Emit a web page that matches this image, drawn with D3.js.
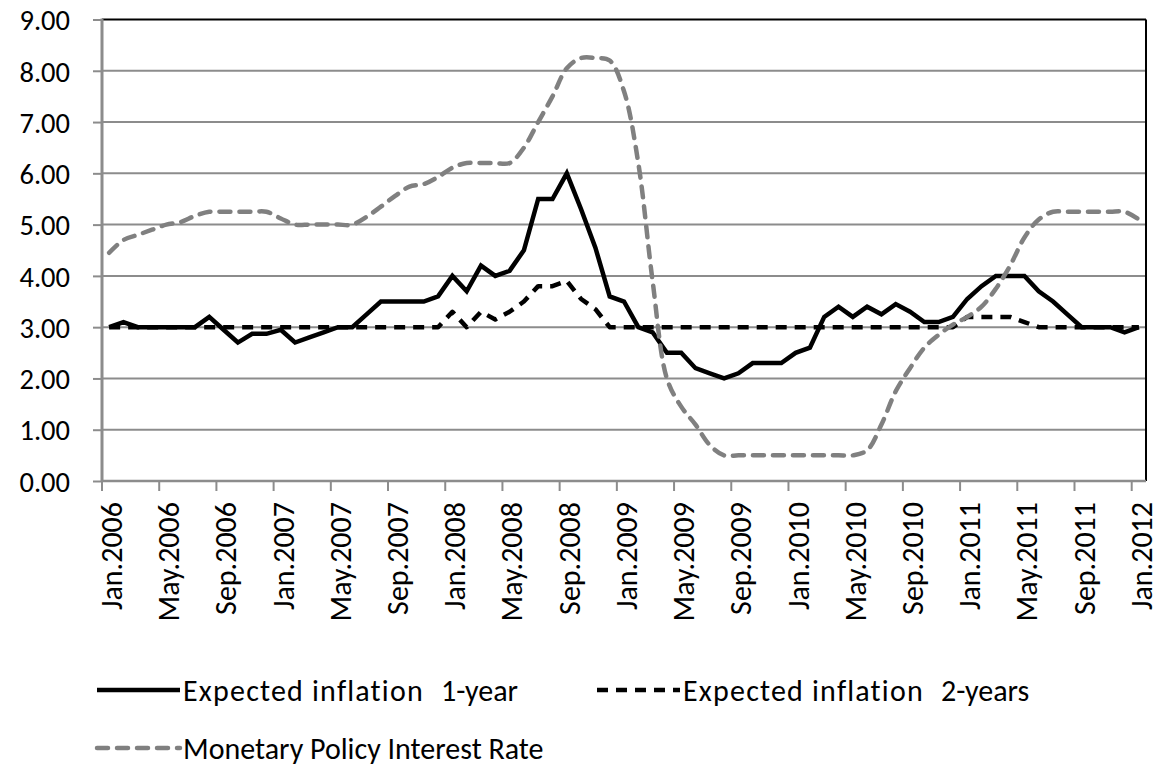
<!DOCTYPE html>
<html>
<head>
<meta charset="utf-8">
<script src="https://cdn.jsdelivr.net/npm/d3@7"></script>
<style>
  html, body { margin: 0; padding: 0; background: #fff; }
  svg { display: block; }
  text { font-family: Carlito, Lato, "Open Sans", sans-serif; fill: #000; }
</style>
</head>
<body>
<svg id="chart" width="1164" height="769"></svg>
<script>
// ---------- data ----------
const months = [
  "Jan.2006","Feb.2006","Mar.2006","Apr.2006","May.2006","Jun.2006","Jul.2006","Aug.2006","Sep.2006","Oct.2006","Nov.2006","Dec.2006",
  "Jan.2007","Feb.2007","Mar.2007","Apr.2007","May.2007","Jun.2007","Jul.2007","Aug.2007","Sep.2007","Oct.2007","Nov.2007","Dec.2007",
  "Jan.2008","Feb.2008","Mar.2008","Apr.2008","May.2008","Jun.2008","Jul.2008","Aug.2008","Sep.2008","Oct.2008","Nov.2008","Dec.2008",
  "Jan.2009","Feb.2009","Mar.2009","Apr.2009","May.2009","Jun.2009","Jul.2009","Aug.2009","Sep.2009","Oct.2009","Nov.2009","Dec.2009",
  "Jan.2010","Feb.2010","Mar.2010","Apr.2010","May.2010","Jun.2010","Jul.2010","Aug.2010","Sep.2010","Oct.2010","Nov.2010","Dec.2010",
  "Jan.2011","Feb.2011","Mar.2011","Apr.2011","May.2011","Jun.2011","Jul.2011","Aug.2011","Sep.2011","Oct.2011","Nov.2011","Dec.2011",
  "Jan.2012"
];

const tickLabels = [
  "Jan.2006","May.2006","Sep.2006","Jan.2007","May.2007","Sep.2007","Jan.2008","May.2008","Sep.2008","Jan.2009",
  "May.2009","Sep.2009","Jan.2010","May.2010","Sep.2010","Jan.2011","May.2011","Sep.2011","Jan.2012"
];

const yTicks = [0, 1, 2, 3, 4, 5, 6, 7, 8, 9];

const expected1y = [
  3.0, 3.1, 3.0, 3.0, 3.0, 3.0, 3.0, 3.2, 2.95, 2.7,
  2.87, 2.87, 2.95, 2.7, 2.8, 2.9, 3.0, 3.0, 3.25, 3.5,
  3.5, 3.5, 3.5, 3.6, 4.0, 3.7, 4.2, 4.0, 4.1, 4.5,
  5.5, 5.5, 6.0, 5.3, 4.55, 3.6, 3.5, 3.0, 2.9, 2.5,
  2.5, 2.2, 2.1, 2.0, 2.1, 2.3, 2.3, 2.3, 2.5, 2.6,
  3.2, 3.4, 3.2, 3.4, 3.25, 3.45, 3.3, 3.1, 3.1, 3.2,
  3.55, 3.8, 4.0, 4.0, 4.0, 3.7, 3.5, 3.25, 3.0, 3.0,
  3.0, 2.9, 3.0
];

const expected2y = [
  3.0, 3.0, 3.0, 3.0, 3.0, 3.0, 3.0, 3.0, 3.0, 3.0,
  3.0, 3.0, 3.0, 3.0, 3.0, 3.0, 3.0, 3.0, 3.0, 3.0,
  3.0, 3.0, 3.0, 3.0, 3.3, 3.0, 3.3, 3.15, 3.3, 3.5,
  3.8, 3.8, 3.9, 3.55, 3.35, 3.0, 3.0, 3.0, 3.0, 3.0,
  3.0, 3.0, 3.0, 3.0, 3.0, 3.0, 3.0, 3.0, 3.0, 3.0,
  3.0, 3.0, 3.0, 3.0, 3.0, 3.0, 3.0, 3.0, 3.0, 3.0,
  3.2, 3.2, 3.2, 3.2, 3.1, 3.0, 3.0, 3.0, 3.0, 3.0,
  3.0, 3.0, 3.0
];

const policyRate = [
  4.45, 4.7, 4.8, 4.9, 5.0, 5.05, 5.17, 5.25, 5.25, 5.25,
  5.25, 5.25, 5.12, 5.0, 5.0, 5.0, 5.0, 5.0, 5.15, 5.35,
  5.56, 5.74, 5.79, 5.93, 6.11, 6.2, 6.2, 6.2, 6.2, 6.5,
  7.0, 7.5, 8.05, 8.25, 8.25, 8.2, 7.6, 6.2, 3.9, 2.0,
  1.45, 1.1, 0.7, 0.5, 0.5, 0.5, 0.5, 0.5, 0.5, 0.5,
  0.5, 0.5, 0.5, 0.6, 1.1, 1.75, 2.2, 2.6, 2.85, 3.05,
  3.2, 3.4, 3.75, 4.2, 4.75, 5.1, 5.25, 5.25, 5.25, 5.25,
  5.25, 5.25, 5.1
];

// legend names split into main part and trailing part (separated by a wide gap)
const seriesNames = [
  ["Expected inflation", "1-year"],
  ["Expected inflation", "2-years"],
  ["Monetary Policy Interest Rate", ""]
];

// ---------- layout ----------
const svg = d3.select("#chart");
const plot = { left: 102, right: 1146, top: 19.5, bottom: 481 };
const gridColor = "#8c8c8c";

const x = d3.scaleBand().domain(months).range([plot.left, plot.right]).padding(0);
const y = d3.scaleLinear().domain([0, 9]).range([plot.bottom, plot.top]);
const cx = m => x(m) + x.bandwidth() / 2;

svg.append("rect").attr("width", 1164).attr("height", 769).attr("fill", "#fff");

// gridlines
svg.append("g").selectAll("line").data(yTicks.filter(v => v > 0 && v < 9)).join("line")
  .attr("x1", plot.left).attr("x2", plot.right)
  .attr("y1", d => y(d)).attr("y2", d => y(d))
  .attr("stroke", gridColor).attr("stroke-width", 2);

// frame (top & right black)
svg.append("line").attr("x1", plot.left).attr("x2", plot.right).attr("y1", y(9)).attr("y2", y(9))
  .attr("stroke", "#000").attr("stroke-width", 2);
svg.append("line").attr("x1", plot.right).attr("x2", plot.right).attr("y1", y(9)).attr("y2", y(0))
  .attr("stroke", "#000").attr("stroke-width", 2);

// y axis
const yAxis = d3.axisLeft(y).tickValues(yTicks).tickFormat(d3.format(".2f")).tickSize(9).tickPadding(23);
const gy = svg.append("g").attr("transform", `translate(${plot.left},0)`).call(yAxis);
gy.select(".domain").remove();
gy.selectAll(".tick line").attr("stroke", gridColor).attr("stroke-width", 2);
gy.selectAll(".tick text").attr("font-size", 28.5).attr("dy", "0.36em")
  .style("font-family", "Carlito, Lato, sans-serif");
svg.append("line").attr("x1", plot.left).attr("x2", plot.left).attr("y1", y(9) - 1).attr("y2", y(0) + 1)
  .attr("stroke", gridColor).attr("stroke-width", 3);

// x axis
const gx = svg.append("g");
gx.append("line").attr("x1", plot.left).attr("x2", plot.right).attr("y1", y(0)).attr("y2", y(0))
  .attr("stroke", gridColor).attr("stroke-width", 2.5);
gx.selectAll("line.tick").data(tickLabels).join("line").attr("class", "tick")
  .attr("x1", d => x(d)).attr("x2", d => x(d))
  .attr("y1", y(0)).attr("y2", y(0) + 10)
  .attr("stroke", gridColor).attr("stroke-width", 2);
gx.selectAll("text").data(tickLabels).join("text")
  .attr("transform", d => `translate(${cx(d)},${y(0) + 21}) rotate(-90)`)
  .attr("text-anchor", "end").attr("dy", "0.43em")
  .attr("font-size", 30)
  .text(d => d);

// series
const line = d3.line().x((d, i) => cx(months[i])).y(d => y(d));
const smooth = d3.line().x((d, i) => cx(months[i])).y(d => y(d)).curve(d3.curveCatmullRom.alpha(0.5));

const styles = [
  { stroke: "#000", width: 4.5, dash: null, cap: "butt" },
  { stroke: "#000", width: 4.5, dash: "11,8", cap: "butt" },
  { stroke: "#808080", width: 4.5, dash: "11,9", cap: "round" }
];

svg.append("path").datum(expected1y).attr("d", line)
  .attr("fill", "none").attr("stroke", styles[0].stroke).attr("stroke-width", styles[0].width)
  .attr("stroke-linejoin", "miter");
svg.append("path").datum(expected2y).attr("d", line)
  .attr("fill", "none").attr("stroke", styles[1].stroke).attr("stroke-width", styles[1].width)
  .attr("stroke-dasharray", styles[1].dash).attr("stroke-linejoin", "round");
svg.append("path").datum(policyRate).attr("d", smooth)
  .attr("fill", "none").attr("stroke", styles[2].stroke).attr("stroke-width", styles[2].width)
  .attr("stroke-dasharray", styles[2].dash).attr("stroke-linecap", styles[2].cap);

// legend
const legendItems = [
  { name: seriesNames[0], s: styles[0], x: 97, y: 690, ls: 1.2, gap: 17 },
  { name: seriesNames[1], s: styles[1], x: 597, y: 690, ls: 1.2, gap: 17 },
  { name: seriesNames[2], s: styles[2], x: 97, y: 748, ls: 0, gap: 0 }
];
const lg = svg.append("g").selectAll("g").data(legendItems).join("g")
  .attr("transform", d => `translate(${d.x},${d.y})`);
lg.append("line").attr("x1", 0).attr("x2", 83).attr("y1", 0).attr("y2", 0)
  .attr("stroke", d => d.s.stroke).attr("stroke-width", d => d.s.width)
  .attr("stroke-dasharray", d => d.s.dash).attr("stroke-linecap", d => d.s.cap);
const lt = lg.append("text").attr("x", 86).attr("dy", "0.36em").attr("font-size", 30);
lt.append("tspan").style("letter-spacing", d => d.ls + "px").text(d => d.name[0]);
lt.append("tspan").attr("dx", d => d.gap).text(d => d.name[1]);
</script>
</body>
</html>
